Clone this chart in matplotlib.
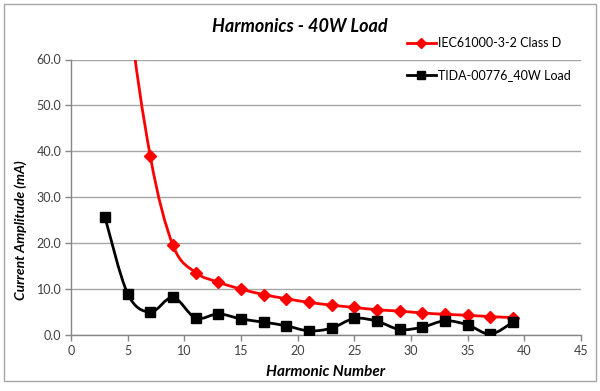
import matplotlib
matplotlib.use("Agg")
import matplotlib.pyplot as plt
from matplotlib.path import Path
from matplotlib.patches import PathPatch, Rectangle
from matplotlib.lines import Line2D
import numpy as np

plt.rcParams['font.family'] = ['Lato', 'DejaVu Sans']

title = "Harmonics - 40W Load"
xlabel = "Harmonic Number"
ylabel = "Current Amplitude (mA)"

harmonics = [3, 5, 7, 9, 11, 13, 15, 17, 19, 21, 23, 25, 27, 29, 31, 33, 35, 37, 39]
iec_label = "IEC61000-3-2 Class D"
iec_values = [132.3, 73.9, 38.9, 19.5, 13.6, 11.5, 10.0, 8.8, 7.9, 7.1, 6.5, 6.0,
              5.5, 5.2, 4.8, 4.5, 4.3, 4.0, 3.8]
tida_label = "TIDA-00776_40W Load"
tida_values = [25.6, 9.0, 5.0, 8.2, 3.7, 4.6, 3.5, 2.8, 2.0, 0.9, 1.5, 3.6,
               3.0, 1.2, 1.7, 3.1, 2.2, 0.2, 2.8]

xticks = [0, 5, 10, 15, 20, 25, 30, 35, 40, 45]
yticks = [0, 10, 20, 30, 40, 50, 60]

W, H = 600, 391
fig = plt.figure(figsize=(W / 100, H / 100), dpi=100)
ax = fig.add_axes([71 / W, 1 - 335 / H, 510 / W, 275.5 / H])

# outer chart border
fig.patches.append(Rectangle((4 / W, 1 - 381 / H), 592 / W, 377 / H, transform=fig.transFigure,
                             fill=False, edgecolor='#A6A6A6', linewidth=1.0))


def smooth_path(xs, ys):
    pts = np.column_stack([xs, ys]).astype(float)
    n = len(pts)
    verts = [pts[0]]
    codes = [Path.MOVETO]
    for i in range(n - 1):
        p0 = pts[i - 1] if i > 0 else pts[i]
        p1 = pts[i]
        p2 = pts[i + 1]
        p3 = pts[i + 2] if i + 2 < n else pts[i + 1]
        c1 = p1 + (p2 - p0) / 6.0
        c2 = p2 - (p3 - p1) / 6.0
        verts += [c1, c2, p2]
        codes += [Path.CURVE4] * 3
    return Path(verts, codes)


series = [
    (harmonics, iec_values, '#FF0000', 'D', 6.5, iec_label),
    (harmonics, tida_values, '#000000', 's', 7.5, tida_label),
]
handles = []
for xs, ys, col, mk, ms, lab in series:
    patch = PathPatch(smooth_path(xs, ys), facecolor='none', edgecolor=col, linewidth=2.0,
                      zorder=3, clip_on=True)
    ax.add_patch(patch)
    ax.plot(xs, ys, linestyle='none', marker=mk, markersize=ms, color=col, zorder=4, clip_on=True)
    handles.append(Line2D([0], [0], color=col, lw=2.0, marker=mk, markersize=ms * 0.75, label=lab))

ax.set_xlim(0, 45)
ax.set_ylim(0, 60)
ax.set_xticks(xticks)
ax.set_xticklabels([str(t) for t in xticks])
ax.set_yticks(yticks)
ax.set_yticklabels([f"{t:.1f}" for t in yticks])

for s in ['top', 'right']:
    ax.spines[s].set_visible(False)
for s in ['left', 'bottom']:
    ax.spines[s].set_color('#868686')
    ax.spines[s].set_linewidth(1.0)
ax.tick_params(axis='both', direction='out', length=4, width=1.0, color='#868686',
               labelsize=9, labelcolor='#404040', pad=3)
ax.yaxis.grid(True, color='#A6A6A6', linewidth=1.0)
ax.set_axisbelow(True)

fig.text(326 / W, 1 - 372 / H, xlabel, fontsize=11, fontweight='bold', fontstyle='italic',
         ha='center', va='center')
fig.text(21 / W, 1 - 230 / H, ylabel, fontsize=10, fontweight='bold', fontstyle='italic',
         ha='center', va='center', rotation=90)
fig.text(300 / W, 1 - 27 / H, title, fontsize=13, fontweight='bold', fontstyle='italic',
         ha='center', va='center')

leg = fig.legend(handles=handles, loc='upper left', bbox_to_anchor=(407 / W, 1 - 37 / H),
                 frameon=False, fontsize=9, borderpad=0, borderaxespad=0, handlelength=2.3,
                 handletextpad=0.2, labelspacing=1.6, numpoints=1)

fig.savefig("out.png", dpi=100)
